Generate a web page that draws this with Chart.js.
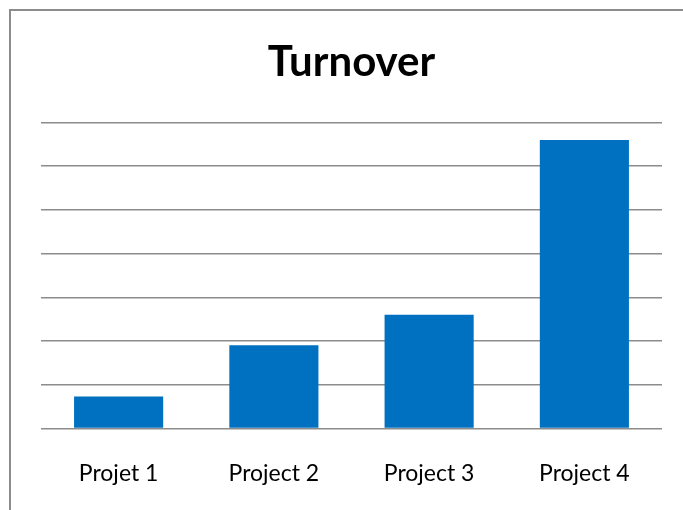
<!DOCTYPE html>
<html><head><meta charset="utf-8">
<script src="https://cdn.jsdelivr.net/npm/chart.js@4"></script>
<style>
html,body{margin:0;padding:0;background:#fff;overflow:hidden}
#frame{position:absolute;left:9px;top:9px;width:700px;height:520px;border:2px solid #8c8c8c;box-sizing:border-box}
#wrap{position:absolute;left:0;top:0;width:683px;height:510px}
</style></head>
<body>
<div id="frame"></div>
<div id="wrap"><canvas id="c" width="683" height="510"></canvas></div>
<script>
const categories = ["Projet 1", "Project 2", "Project 3", "Project 4"];
const turnover = [0.73, 1.9, 2.6, 6.6];
const titleText = "Turnover";

new Chart(document.getElementById('c'), {
  type: 'bar',
  data: { labels: categories, datasets: [{ label: titleText, data: turnover, backgroundColor: '#0070C0', barPercentage: 1, categoryPercentage: 0.574 }] },
  options: {
    responsive: false, animation: false,
    layout: { padding: { left: 41, right: 21, top: 0, bottom: 0 } },
    plugins: {
      legend: { display: false },
      tooltip: { enabled: false },
      title: { display: true, text: titleText, color: '#000', font: { family: 'Lato', size: 42, weight: 'bold' }, padding: { top: 37, bottom: 35 } }
    },
    scales: {
      x: { grid: { display: false }, border: { display: false },
           ticks: { color: '#000', padding: 23, font: { family: 'Lato', size: 23 } } },
      y: { min: 0, max: 7, ticks: { display: false, stepSize: 1 }, border: { display: false },
           grid: { color: '#8c8c8c', lineWidth: 1.5, drawTicks: false } }
    }
  }
});
</script>
</body></html>
